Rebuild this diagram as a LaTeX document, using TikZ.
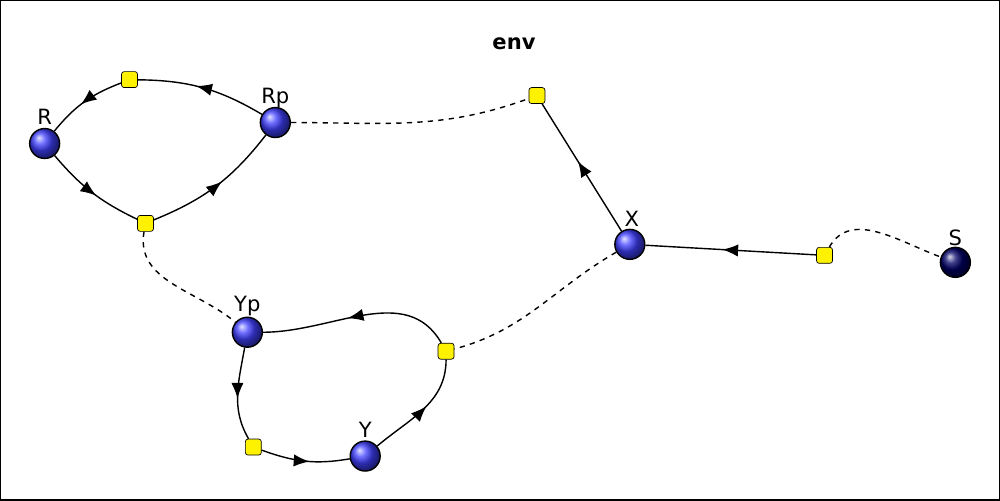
\documentclass[tikz,border=0pt]{standalone}
\usepackage{fontspec}
\setmainfont{DejaVu Sans}
\usetikzlibrary{decorations.markings,arrows.meta}
\begin{document}
\begin{tikzpicture}[x=0.02cm,y=-0.02cm,
  place/.style={circle,minimum size=0.6cm,inner sep=0pt,draw=black,thick,ball color=blue!75!white},
  darkplace/.style={place,ball color=blue!40!black},
  trans/.style={rectangle,rounded corners=1.5pt,minimum size=0.32cm,inner sep=0pt,draw=black,fill=yellow},
  lbl/.style={font=\large,inner sep=0pt},
  arc/.style={thick,postaction={decorate},decoration={markings,mark=at position 0.55 with {\arrow{Latex[length=9pt,width=7pt]}}}},
  dashline/.style={thick,dashed}]
\draw[thick] (0,0) rectangle (1000,500);
\node[font=\large\bfseries] (env) at (514,43) {env};
\node[place] (R) at (44,143) {};
\node[place] (Rp) at (275,122) {};
\node[place] (X) at (630,244) {};
\node[darkplace] (S) at (956,262) {};
\node[place] (Yp) at (247,332) {};
\node[place] (Y) at (365,456) {};
\node[lbl] (lR) at (44,116) {R};
\node[lbl] (lRp) at (275,97) {Rp};
\node[lbl] (lX) at (632,218) {X};
\node[lbl] (lS) at (956,237) {S};
\node[lbl] (lYp) at (247,306) {Yp};
\node[lbl] (lY) at (365,430) {Y};
\node[trans] (t1) at (129,79) {};
\node[trans] (t2) at (145,223) {};
\node[trans] (t3) at (537,95) {};
\node[trans] (t4) at (825,255) {};
\node[trans] (t5) at (446,351) {};
\node[trans] (t6) at (253,447) {};
\draw[arc] (Rp) to[bend right=15] (t1);
\draw[arc] (t1) to[bend right=15] (R);
\draw[arc] (R) to[bend right=12] (t2);
\draw[arc] (t2) to[bend right=15] (Rp);
\draw[arc] (X) -- (t3);
\draw[arc] (t4) -- (X);
\draw[arc] (t5) to[out=120,in=0] (Yp);
\draw[arc] (Yp) to[out=-100,in=120] (t6);
\draw[arc] (t6) to[out=-20,in=190] (Y);
\draw[arc] (Y) to[out=40,in=-90] (t5);
\draw[dashline] (Rp) to[out=0,in=200] (t3);
\draw[dashline] (t2) to[out=-100,in=140] (Yp);
\draw[dashline] (X) to[out=210,in=15] (t5);
\draw[dashline] (t4) to[out=60,in=160] (S);
\end{tikzpicture}
\end{document}
